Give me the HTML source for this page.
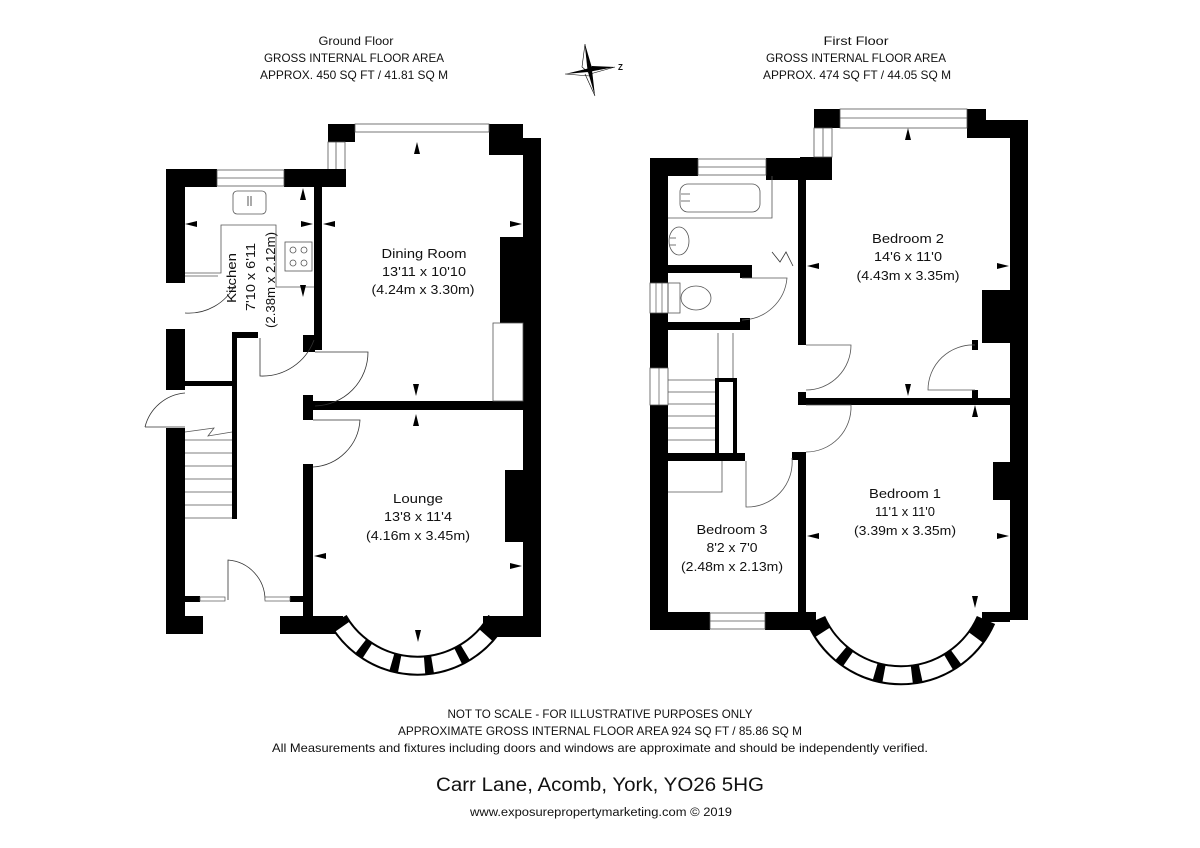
<!DOCTYPE html>
<html><head><meta charset="utf-8"><style>
html,body{margin:0;padding:0;background:#fff;}
svg{display:block;}
text{font-family:"Liberation Sans",sans-serif;fill:#111;}
</style></head><body>
<svg width="1200" height="848" viewBox="0 0 1200 848" xmlns="http://www.w3.org/2000/svg">
<rect width="1200" height="848" fill="#fff"/>

<!-- Titles -->
<g font-size="12" text-anchor="middle">
<text x="356" y="45" textLength="75" lengthAdjust="spacingAndGlyphs">Ground Floor</text>
<text x="354" y="62" textLength="180" lengthAdjust="spacingAndGlyphs">GROSS INTERNAL FLOOR AREA</text>
<text x="354" y="79" textLength="188" lengthAdjust="spacingAndGlyphs">APPROX. 450 SQ FT / 41.81 SQ M</text>
<text x="856" y="45" textLength="65" lengthAdjust="spacingAndGlyphs">First Floor</text>
<text x="856" y="62" textLength="180" lengthAdjust="spacingAndGlyphs">GROSS INTERNAL FLOOR AREA</text>
<text x="857" y="79" textLength="188" lengthAdjust="spacingAndGlyphs">APPROX. 474 SQ FT / 44.05 SQ M</text>
</g>

<!-- Compass -->
<g>
<polygon points="585,44 592,68 588,72" fill="#000"/>
<polygon points="585,44 582,67 588,72" fill="#fff" stroke="#000" stroke-width="0.6"/>
<polygon points="615,67 592,66 588,72" fill="#000"/>
<polygon points="615,67 590,74" fill="none" stroke="#000" stroke-width="0.6"/>
<polygon points="565,74 588,72 590,68" fill="#000"/>
<polygon points="565,74 590,76" fill="none" stroke="#000" stroke-width="0.6"/>
<polygon points="595,96 588,72 592,70" fill="#000"/>
<line x1="595" y1="96" x2="585" y2="74" stroke="#000" stroke-width="0.6"/>
<text x="618" y="70" font-size="8" font-weight="bold">Z</text>
</g>

<!-- ===== GROUND FLOOR ===== -->
<g fill="#000">
<!-- kitchen -->
<rect x="166" y="169" width="51" height="18"/>
<rect x="284" y="169" width="62" height="18"/>
<rect x="166" y="169" width="19" height="114"/>
<rect x="314" y="187" width="8" height="163"/>
<!-- dining -->
<rect x="328" y="124" width="27" height="18"/>
<rect x="489" y="124" width="34" height="31"/>
<rect x="523" y="138" width="18" height="499"/>
<rect x="500" y="237" width="23" height="86"/>
<rect x="303" y="401" width="220" height="9"/>
<rect x="303" y="395" width="10" height="25"/>
<!-- hall -->
<rect x="166" y="329" width="19" height="61"/>
<rect x="166" y="428" width="19" height="206"/>
<rect x="166" y="616" width="37" height="18"/>
<rect x="185" y="381" width="47" height="5"/>
<rect x="232" y="332" width="5" height="187"/>
<rect x="232" y="332" width="26" height="6"/>
<rect x="185" y="596" width="15" height="6"/>
<rect x="290" y="596" width="13" height="6"/>
<rect x="303" y="464" width="10" height="152"/>
<rect x="280" y="616" width="63" height="18"/>
<rect x="483" y="616" width="58" height="21"/>
<rect x="303" y="335" width="12" height="17"/>
</g>
<!-- kitchen window -->
<rect x="217" y="170" width="67" height="16" fill="#fff" stroke="#555" stroke-width="0.8"/>
<line x1="217" y1="178" x2="284" y2="178" stroke="#555" stroke-width="0.8"/>
<!-- dining window -->
<rect x="355" y="124" width="134" height="8" fill="#fff" stroke="#555" stroke-width="0.8"/>
<rect x="328" y="142" width="17" height="28" fill="#fff" stroke="#555" stroke-width="0.8"/>
<line x1="336" y1="142" x2="336" y2="170" stroke="#555" stroke-width="0.8"/>
<rect x="322" y="169" width="24" height="18" fill="#000"/>
<!-- dining cupboard -->
<rect x="493" y="323" width="30" height="78" fill="none" stroke="#555" stroke-width="0.8"/>
<!-- kitchen fixtures -->
<rect x="233" y="191" width="33" height="23" rx="4" fill="none" stroke="#555" stroke-width="0.8"/>
<line x1="248" y1="196" x2="248" y2="206" stroke="#555"/><line x1="251" y1="196" x2="251" y2="206" stroke="#555"/>
<polyline points="185,273 221,273 221,225 276,225 276,287 314,287" fill="none" stroke="#555" stroke-width="0.8"/>
<line x1="185" y1="276" x2="218" y2="276" stroke="#555" stroke-width="0.8"/>
<rect x="285" y="242" width="27" height="29" fill="none" stroke="#555" stroke-width="0.8"/>
<g fill="none" stroke="#555" stroke-width="0.8">
<circle cx="293" cy="250" r="3"/><circle cx="304" cy="250" r="3"/><circle cx="293" cy="263" r="3"/><circle cx="304" cy="263" r="3"/>
</g>
<!-- doors ground -->
<g fill="none" stroke="#333" stroke-width="0.8">
<path d="M185,313 A52,52 0 0 0 235,285"/>
<path d="M260,338 L260,376 A55,55 0 0 0 314,340"/>
<path d="M315,352 L368,352 A54,54 0 0 1 315,406"/>
<path d="M313,420 L360,420 A50,50 0 0 1 313,467"/>
<path d="M145,427 A45,45 0 0 1 185,393"/>
<line x1="145" y1="427" x2="185" y2="427"/>
<path d="M228,600 L228,560 A40,40 0 0 1 265,600"/>
</g>
<!-- front door windows -->
<rect x="200" y="597" width="25" height="4" fill="#fff" stroke="#555" stroke-width="0.7"/>
<rect x="265" y="597" width="25" height="4" fill="#fff" stroke="#555" stroke-width="0.7"/>
<!-- stairs ground -->
<g stroke="#555" stroke-width="0.8">
<line x1="185" y1="440" x2="232" y2="440"/><line x1="185" y1="453" x2="232" y2="453"/>
<line x1="185" y1="466" x2="232" y2="466"/><line x1="185" y1="479" x2="232" y2="479"/>
<line x1="185" y1="492" x2="232" y2="492"/><line x1="185" y1="505" x2="232" y2="505"/>
<line x1="185" y1="518" x2="232" y2="518"/>
<polyline points="185,432 214,428 208,436 232,432" fill="none"/>
</g>
<!-- lounge bay -->
<path d="M338,620 A92,92 0 0 0 497,620" fill="none" stroke="#000" stroke-width="20"/>
<path d="M338,620 A92,92 0 0 0 497,620" fill="none" stroke="#fff" stroke-width="16" stroke-dasharray="0 8 27 8 27 8 25 8 27 8 27 30"/>
<!-- lounge chimney -->
<rect x="505" y="470" width="18" height="72" fill="#000"/>

<!-- ===== FIRST FLOOR ===== -->
<g fill="#000">
<rect x="650" y="158" width="48" height="18"/>
<rect x="766" y="158" width="66" height="22"/>
<rect x="800" y="157" width="32" height="23"/>
<rect x="814" y="109" width="26" height="19"/>
<rect x="967" y="109" width="19" height="29"/>
<rect x="986" y="120" width="42" height="18"/>
<rect x="1010" y="120" width="18" height="500"/>
<rect x="650" y="158" width="18" height="125"/>
<rect x="650" y="313" width="18" height="55"/>
<rect x="650" y="405" width="18" height="225"/>
<rect x="650" y="612" width="60" height="18"/>
<rect x="765" y="612" width="47" height="18"/>
<rect x="798" y="176" width="8" height="169"/>
<rect x="668" y="265" width="84" height="8"/>
<rect x="740" y="265" width="12" height="13"/>
<rect x="668" y="322" width="82" height="8"/>
<rect x="740" y="318" width="10" height="12"/>
<rect x="798" y="392" width="8" height="13"/>
<rect x="798" y="398" width="212" height="7"/>
<rect x="982" y="290" width="28" height="53"/>
<rect x="972" y="340" width="6" height="10"/>
<rect x="972" y="390" width="6" height="10"/>
<rect x="993" y="462" width="17" height="38"/>
<rect x="668" y="453" width="77" height="8"/>
<rect x="792" y="452" width="14" height="8"/>
<rect x="798" y="452" width="8" height="160"/>
<rect x="982" y="612" width="28" height="10"/>
<rect x="806" y="612" width="10" height="10"/>
</g>
<!-- first floor windows -->
<rect x="698" y="159" width="68" height="16" fill="#fff" stroke="#555" stroke-width="0.8"/>
<line x1="698" y1="167" x2="766" y2="167" stroke="#555" stroke-width="0.8"/>
<rect x="840" y="109" width="127" height="19" fill="#fff" stroke="#555" stroke-width="0.8"/>
<line x1="840" y1="118" x2="967" y2="118" stroke="#555" stroke-width="0.8"/>
<rect x="814" y="128" width="18" height="29" fill="#fff" stroke="#555" stroke-width="0.8"/>
<line x1="823" y1="128" x2="823" y2="157" stroke="#555" stroke-width="0.8"/>
<rect x="650" y="283" width="18" height="30" fill="#fff" stroke="#555" stroke-width="0.8"/>
<line x1="656" y1="283" x2="656" y2="313" stroke="#555" stroke-width="0.7"/><line x1="662" y1="283" x2="662" y2="313" stroke="#555" stroke-width="0.7"/>
<rect x="650" y="368" width="18" height="37" fill="#fff" stroke="#555" stroke-width="0.8"/>
<line x1="659" y1="368" x2="659" y2="405" stroke="#555" stroke-width="0.7"/>
<rect x="710" y="613" width="55" height="16" fill="#fff" stroke="#555" stroke-width="0.8"/>
<line x1="710" y1="621" x2="765" y2="621" stroke="#555" stroke-width="0.8"/>
<!-- bathroom -->
<g fill="none" stroke="#555" stroke-width="0.8">
<polyline points="668,218 772,218 772,176"/>
<rect x="680" y="184" width="80" height="28" rx="8"/>
<line x1="681" y1="194" x2="690" y2="194"/><line x1="681" y1="201" x2="690" y2="201"/>
<ellipse cx="679" cy="241" rx="10" ry="14"/>
<line x1="670" y1="238" x2="676" y2="238"/><line x1="670" y1="245" x2="676" y2="245"/>
<rect x="668" y="283" width="12" height="30"/>
<ellipse cx="696" cy="298" rx="15" ry="12"/>
<polyline points="772,252 780,262 786,252 793,266" stroke="#333"/>
<!-- WC door -->
<path d="M742,278 L787,278 A46,46 0 0 1 742,320"/>
<!-- stairs -->
<line x1="718" y1="333" x2="718" y2="380"/><line x1="733" y1="333" x2="733" y2="380"/>
<line x1="668" y1="380" x2="715" y2="380"/><line x1="668" y1="392" x2="715" y2="392"/>
<line x1="668" y1="404" x2="715" y2="404"/><line x1="668" y1="416" x2="715" y2="416"/>
<line x1="668" y1="428" x2="715" y2="428"/><line x1="668" y1="440" x2="715" y2="440"/>
<!-- bed3 cupboard -->
<polyline points="668,492 722,492 722,461"/>
<!-- doors -->
<path d="M746,461 L746,507 A45,45 0 0 0 792,458"/>
<path d="M806,345 L851,345 A45,45 0 0 1 806,390"/>
<path d="M806,405 L851,405 A45,45 0 0 1 806,452"/>
<path d="M975,345 A45,45 0 0 0 928,390 L975,390"/>
</g>
<rect x="717" y="380" width="18" height="75" fill="none" stroke="#000" stroke-width="4"/>
<!-- bed1 bay -->
<path d="M816,620 A93,93 0 0 0 986,620" fill="none" stroke="#000" stroke-width="20"/>
<path d="M816,620 A93,93 0 0 0 986,620" fill="none" stroke="#fff" stroke-width="16" stroke-dasharray="0 14 28 9 30 9 28 9 30 9 28 30"/>

<!-- measurement arrows -->
<g fill="#000">
<polygon points="415,142 418,154 412,154" transform="translate(2,0)"/>
<polygon points="416,396 413,384 419,384"/><polygon points="416,414 413,426 419,426"/>
<polygon points="323,224 335,221 335,227"/><polygon points="522,224 510,221 510,227"/>
<polygon points="314,556 326,553 326,559"/><polygon points="522,566 510,563 510,569"/>
<polygon points="418,642 415,630 421,630"/>
<polygon points="185,224 197,221 197,227"/><polygon points="313,224 301,221 301,227"/>
<polygon points="303,188 300,200 306,200"/><polygon points="303,297 300,285 306,285"/>
<polygon points="908,128 905,140 911,140"/><polygon points="908,396 905,384 911,384"/>
<polygon points="807,266 819,263 819,269"/><polygon points="1009,266 997,263 997,269"/>
<polygon points="807,536 819,533 819,539"/><polygon points="1009,536 997,533 997,539"/>
<polygon points="975,405 972,417 978,417"/><polygon points="975,608 972,596 978,596"/>
</g>

<!-- room labels -->
<g font-size="13" text-anchor="middle">
<text x="424" y="258" textLength="85" lengthAdjust="spacingAndGlyphs">Dining Room</text>
<text x="424" y="276" textLength="84" lengthAdjust="spacingAndGlyphs">13'11 x 10'10</text>
<text x="423" y="294" textLength="103" lengthAdjust="spacingAndGlyphs">(4.24m x 3.30m)</text>
<text x="418" y="503" textLength="50" lengthAdjust="spacingAndGlyphs">Lounge</text>
<text x="418" y="521" textLength="68" lengthAdjust="spacingAndGlyphs">13'8 x 11'4</text>
<text x="418" y="540" textLength="104" lengthAdjust="spacingAndGlyphs">(4.16m x 3.45m)</text>
<text x="908" y="243" textLength="72" lengthAdjust="spacingAndGlyphs">Bedroom 2</text>
<text x="908" y="261" textLength="68" lengthAdjust="spacingAndGlyphs">14'6 x 11'0</text>
<text x="908" y="280" textLength="103" lengthAdjust="spacingAndGlyphs">(4.43m x 3.35m)</text>
<text x="905" y="498" textLength="72" lengthAdjust="spacingAndGlyphs">Bedroom 1</text>
<text x="905" y="516" textLength="60" lengthAdjust="spacingAndGlyphs">11'1 x 11'0</text>
<text x="905" y="535" textLength="102" lengthAdjust="spacingAndGlyphs">(3.39m x 3.35m)</text>
<text x="732" y="534" textLength="71" lengthAdjust="spacingAndGlyphs">Bedroom 3</text>
<text x="732" y="552" textLength="51" lengthAdjust="spacingAndGlyphs">8'2 x 7'0</text>
<text x="732" y="571" textLength="102" lengthAdjust="spacingAndGlyphs">(2.48m x 2.13m)</text>
</g>
<g font-size="13" text-anchor="middle" transform="translate(0,0)">
<text transform="translate(236,278) rotate(-90)" textLength="50" lengthAdjust="spacingAndGlyphs">Kitchen</text>
<text transform="translate(255,277) rotate(-90)" textLength="68" lengthAdjust="spacingAndGlyphs">7'10 x 6'11</text>
<text transform="translate(275,280) rotate(-90)" textLength="96" lengthAdjust="spacingAndGlyphs">(2.38m x 2.12m)</text>
</g>

<!-- footer -->
<g text-anchor="middle">
<text x="600" y="718" font-size="12" textLength="305" lengthAdjust="spacingAndGlyphs">NOT TO SCALE - FOR ILLUSTRATIVE PURPOSES ONLY</text>
<text x="600" y="735" font-size="12" textLength="404" lengthAdjust="spacingAndGlyphs">APPROXIMATE GROSS INTERNAL FLOOR AREA 924 SQ FT / 85.86 SQ M</text>
<text x="600" y="752" font-size="12" textLength="656" lengthAdjust="spacingAndGlyphs">All Measurements and fixtures including doors and windows are approximate and should be independently verified.</text>
<text x="600" y="791" font-size="19" textLength="328" lengthAdjust="spacingAndGlyphs">Carr Lane, Acomb, York, YO26 5HG</text>
<text x="601" y="816" font-size="11.5" textLength="262" lengthAdjust="spacingAndGlyphs">www.exposurepropertymarketing.com © 2019</text>
</g>
</svg>
</body></html>
